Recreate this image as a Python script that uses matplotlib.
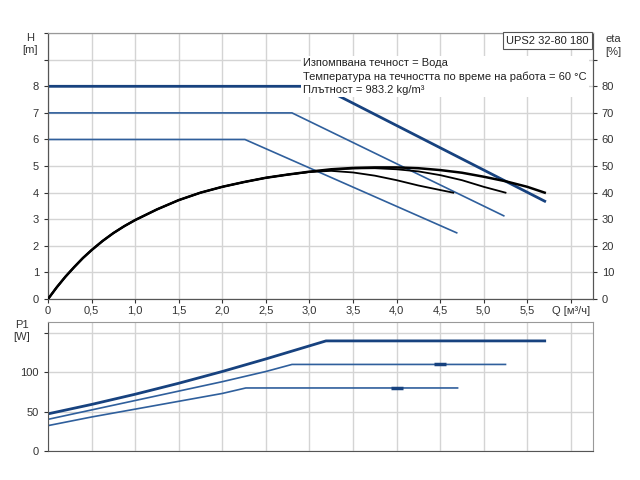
import matplotlib
matplotlib.use("Agg")
import matplotlib.pyplot as plt

plt.rcParams['font.family'] = ['Liberation Sans', 'DejaVu Sans']

# ---- data ----
q_ticks = [0, 0.5, 1.0, 1.5, 2.0, 2.5, 3.0, 3.5, 4.0, 4.5, 5.0, 5.5, 6.0]
q_labels = ["0", "0,5", "1,0", "1,5", "2,0", "2,5", "3,0", "3,5", "4,0", "4,5", "5,0", "5,5", "Q [м³/ч]"]

# head curves (H, m)
h1_q = [0, 3.12, 5.7]
h1 = [8, 8, 3.68]
h2_q = [0, 2.8, 5.23]
h2 = [7, 7, 3.13]
h3_q = [0, 2.26, 4.69]
h3 = [6, 6, 2.49]

# efficiency curves (eta, %) -- shared low-flow part, then each curve
eta_low_q = [0, 0.1, 0.2, 0.3, 0.4, 0.5, 0.625, 0.75, 0.875, 1.0, 1.25, 1.5, 1.75,
             2.0, 2.25, 2.5, 2.75]
eta_low = [0, 4.4, 8.4, 12.0, 15.4, 18.4, 21.8, 24.8, 27.4, 29.7, 33.7, 37.2, 40.0,
           42.2, 44.0, 45.6, 46.8]
eta1_q = [3.0, 3.25, 3.5, 3.75, 4.0, 4.25, 4.5, 4.75, 5.0, 5.25, 5.5, 5.7]
eta1 = [47.9, 48.8, 49.3, 49.5, 49.5, 49.2, 48.5, 47.5, 46.0, 44.3, 42.2, 40.0]
eta2_q = [3.0, 3.25, 3.5, 3.75, 4.0, 4.25, 4.5, 4.75, 5.0, 5.25]
eta2 = [47.8, 48.6, 49.1, 49.2, 48.8, 48.0, 46.6, 44.7, 42.2, 40.0]
eta3_q = [3.0, 3.25, 3.5, 3.75, 4.0, 4.25, 4.5, 4.65]
eta3 = [47.8, 48.2, 47.6, 46.4, 44.7, 42.7, 41.0, 40.0]

# power curves (P1, W)
p1_q = [0, 0.5, 1.0, 1.5, 2.0, 2.5, 3.19, 5.7]
p1 = [47, 59, 72, 86, 101, 117, 140, 140]
p2_q = [0, 0.5, 1.0, 1.5, 2.0, 2.5, 2.8, 5.25]
p2 = [40, 52, 64, 76, 88, 101, 110, 110]
p3_q = [0, 0.5, 1.0, 1.5, 2.0, 2.27, 4.7]
p3 = [32, 43, 53, 63, 73, 80, 80]
duty_q = [4.5, 4.0]
duty_p = [110, 80]

info_lines = ["Изпомпвана течност = Вода",
              "Температура на течността по време на работа = 60 °C",
              "Плътност = 983.2 kg/m³"]
title = "UPS2 32-80 180"

# ---- style ----
thick_c = '#17427f'
thin_c = '#2f5f9c'
grid_c = '#d4d4d4'
tick_c = '#333333'

fig = plt.figure(figsize=(6.4, 4.8), dpi=100)
ax = fig.add_axes([0.075, 0.377, 0.851, 0.554])
ax2 = ax.twinx()
axb = fig.add_axes([0.075, 0.061, 0.851, 0.268])

# top axes
ax.set_xlim(0, 6.25)
ax.set_ylim(0, 10)
ax2.set_ylim(0, 100)
ax.set_xticks(q_ticks)
ax.set_xticklabels(q_labels)
ax.set_yticks(range(0, 11))
ax.set_yticklabels([str(v) if v <= 8 else "" for v in range(0, 11)])
eta_ticks = [0, 10, 20, 30, 40, 50, 60, 70, 80, 90]
ax2.set_yticks(eta_ticks)
ax2.set_yticklabels([str(v) if v <= 80 else "" for v in eta_ticks])
ax.grid(True, color=grid_c, lw=1)
ax.set_axisbelow(True)

ax.plot(h3_q, h3, color=thin_c, lw=1.2, zorder=3)
ax.plot(h2_q, h2, color=thin_c, lw=1.2, zorder=3)
ax.plot(h1_q, h1, color=thick_c, lw=2.0, zorder=3)

ax2.plot(eta_low_q + eta3_q, eta_low + eta3, color='black', lw=1.3, zorder=4)
ax2.plot(eta_low_q + eta2_q, eta_low + eta2, color='black', lw=1.3, zorder=4)
ax2.plot(eta_low_q + eta1_q, eta_low + eta1, color='black', lw=1.8, zorder=4)

ax2.text(2.93, 90.5, "\n".join(info_lines), fontsize=8, color='#222222', va='top', ha='left',
         linespacing=1.35, zorder=10,
         bbox=dict(facecolor='white', edgecolor='none', pad=1.5))
ax2.text(0.993, 0.99, title, transform=ax2.transAxes, fontsize=8, color='#222222',
         ha='right', va='top', zorder=10,
         bbox=dict(facecolor='white', edgecolor='#555555', lw=0.8, pad=2.5))

for a in (ax, ax2):
    a.tick_params(axis='both', labelsize=8, colors=tick_c, length=3, width=0.8)
    for s in a.spines.values():
        s.set_color('#999999')
    a.spines['left'].set_color('#555555')
    a.spines['bottom'].set_color('#555555')
    a.spines['right'].set_color('#555555')
ax.tick_params(axis='x', length=3, pad=2)

# bottom axes
axb.set_xlim(0, 6.25)
axb.set_ylim(0, 164)
axb.set_xticks(q_ticks)
axb.set_xticklabels([])
axb.tick_params(axis='x', length=0)
axb.set_yticks([0, 50, 100, 150])
axb.set_yticklabels(["0", "50", "100", ""])
axb.tick_params(axis='y', labelsize=8, colors=tick_c, length=3, width=0.8)
axb.grid(True, color=grid_c, lw=1)
axb.set_axisbelow(True)
for s in axb.spines.values():
    s.set_color('#999999')
axb.spines['left'].set_color('#555555')
axb.spines['bottom'].set_color('#555555')

axb.plot(p3_q, p3, color=thin_c, lw=1.2)
axb.plot(p2_q, p2, color=thin_c, lw=1.2)
axb.plot(p1_q, p1, color=thick_c, lw=2.0)
axb.plot(duty_q, duty_p, ls='none', marker='_', ms=8, mew=2.5, color=thick_c)

# axis titles
fig.text(0.047, 0.908, "H\n[m]", fontsize=8, color=tick_c, ha='center', va='center', linespacing=1.3)
fig.text(0.958, 0.905, "eta\n[%]", fontsize=8, color=tick_c, ha='center', va='center', linespacing=1.3)
fig.text(0.034, 0.31, "P1\n[W]", fontsize=8, color=tick_c, ha='center', va='center', linespacing=1.3)

fig.savefig("out.png", dpi=100)
